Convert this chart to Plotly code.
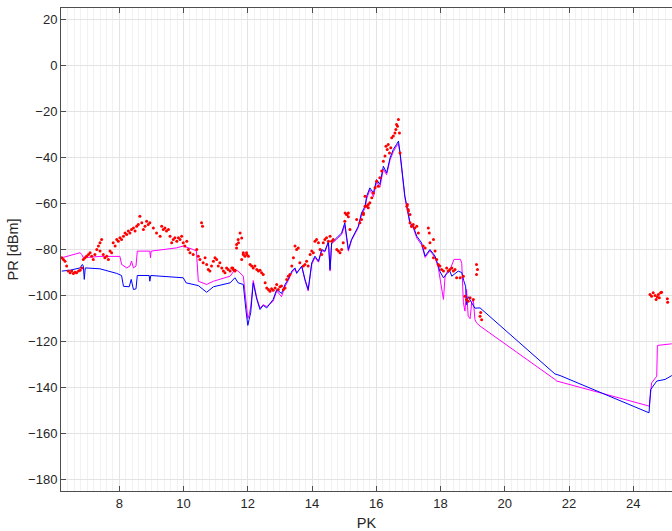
import plotly.graph_objects as go

# Blue trace: PR along PK
blue_pk = [6.21, 6.47, 6.78, 6.85, 6.88, 6.91, 6.94, 7.40, 7.92, 8.07, 8.13, 8.31, 8.37, 8.44, 8.52,
           8.56, 8.93, 8.95, 8.98, 9.99, 10.08, 10.30, 10.46, 10.72, 10.93, 11.45, 11.60, 11.70, 11.86,
           11.94, 12.00, 12.04, 12.09, 12.17, 12.28, 12.38, 12.48, 12.59, 12.79, 12.90, 13.05, 13.16,
           13.26, 13.37, 13.47, 13.52, 13.68, 13.78, 13.88, 13.99, 14.09, 14.20, 14.30, 14.40, 14.51,
           14.56, 14.61, 14.77, 14.92, 15.02, 15.13, 15.23, 15.44, 15.54, 15.65, 15.70, 15.80, 15.91,
           16.01, 16.11, 16.22, 16.32, 16.43, 16.53, 16.58, 16.63, 16.69, 16.74, 16.89, 16.97, 17.05,
           17.15, 17.26, 17.41, 17.52, 17.67, 17.83, 17.93, 17.98, 18.09, 18.19, 18.29, 18.35, 18.55,
           18.66, 18.72, 18.78, 18.81, 18.86, 18.97, 19.07, 19.23, 21.56, 21.72, 24.49, 24.54, 24.73,
           24.99, 25.20]
blue_pr = [-89.4, -89.0, -88.0, -86.5, -87.2, -93.0, -88.0, -88.4, -90.4, -91.3, -96.0, -96.2, -93.0,
           -97.4, -97.1, -91.3, -91.3, -93.8, -91.3, -92.3, -94.5, -95.2, -95.7, -98.6, -96.2, -94.5,
           -92.3, -94.5, -95.2, -106.1, -113.0, -110.5, -107.5, -94.5, -101.7, -106.1, -104.3, -105.4,
           -101.7, -97.4, -99.1, -95.2, -93.0, -89.4, -88.0, -90.4, -87.2, -93.0, -97.4, -85.8, -82.9,
           -85.1, -80.0, -80.7, -76.4, -88.7, -77.1, -74.9, -72.8, -68.4, -80.0, -75.6, -69.9, -64.1,
           -61.2, -56.8, -53.2, -55.4, -49.6, -51.7, -43.8, -46.7, -40.1, -36.5, -35.1, -34.3, -32.9,
           -38.0, -56.8, -62.6, -68.4, -69.9, -74.2, -77.1, -82.9, -80.0, -82.9, -87.2, -89.5, -92.3,
           -90.5, -89.4, -91.6, -89.4, -90.0, -93.5, -96.0, -104.0, -100.5, -103.2, -105.5, -105.4,
           -134.1, -134.8, -151.0, -140.9, -137.2, -136.5, -134.8]

# Magenta trace
mag_pk = [6.21, 6.50, 6.78, 6.83, 6.88, 7.40, 8.02, 8.07, 8.23, 8.33, 8.38, 8.44, 8.52, 8.56, 8.95,
          8.97, 8.99, 9.78, 9.99, 10.30, 10.40, 10.46, 10.72, 10.93, 11.45, 11.60, 11.70, 11.86, 11.96,
          12.00, 12.04, 12.09, 12.17, 12.28, 12.38, 12.48, 12.59, 12.79, 12.90, 13.05, 13.16, 13.26,
          13.37, 13.47, 13.52, 13.68, 13.78, 13.88, 13.99, 14.09, 14.20, 14.30, 14.40, 14.51, 14.56,
          14.61, 14.77, 14.92, 15.02, 15.13, 15.23, 15.44, 15.54, 15.65, 15.70, 15.80, 15.91, 16.01,
          16.11, 16.22, 16.32, 16.43, 16.53, 16.58, 16.63, 16.69, 16.74, 16.89, 16.97, 17.05, 17.15,
          17.26, 17.41, 17.52, 17.67, 17.83, 17.93, 17.98, 18.04, 18.09, 18.14, 18.19, 18.29, 18.38,
          18.42, 18.62, 18.66, 18.71, 18.76, 18.81, 18.86, 18.92, 18.97, 19.02, 19.07, 19.12, 19.23,
          21.56, 21.62, 24.50, 24.57, 24.73, 24.75, 25.20]
mag_pr = [-83.6, -82.5, -81.4, -82.2, -83.6, -83.0, -83.0, -86.5, -88.0, -87.2, -85.0, -88.0, -87.2,
          -80.7, -80.7, -83.6, -80.7, -79.3, -78.5, -80.0, -80.7, -93.8, -95.2, -93.8, -91.6, -88.7,
          -89.4, -91.6, -104.6, -110.0, -108.5, -105.0, -93.5, -101.0, -105.5, -104.0, -104.8, -102.5,
          -98.0, -100.5, -96.0, -93.5, -90.0, -88.5, -90.0, -87.5, -93.5, -98.0, -86.5, -83.5, -85.5,
          -80.5, -81.0, -77.0, -89.4, -77.5, -75.5, -73.5, -69.5, -80.7, -76.0, -70.5, -65.0, -62.0,
          -58.0, -54.0, -57.0, -50.5, -53.0, -45.0, -47.5, -41.0, -37.5, -36.0, -35.0, -34.0, -38.5,
          -57.5, -63.0, -69.0, -70.5, -75.0, -78.0, -83.5, -80.5, -83.5, -88.0, -92.0, -98.0, -101.7,
          -92.0, -90.0, -89.0, -86.0, -84.3, -84.3, -86.0, -103.0, -106.8, -97.4, -109.0, -110.1,
          -103.0, -101.7, -110.4, -111.9, -113.3, -136.5, -137.2, -148.1, -138.0, -135.1, -121.7,
          -121.0]

# Red measured points
meas_pk = [6.21, 6.26, 6.31, 6.36, 6.41, 6.47, 6.52, 6.57, 6.62, 6.67, 6.73, 6.78, 6.83, 6.88, 6.93,
           6.98, 7.04, 7.09, 7.14, 7.19, 7.24, 7.30, 7.35, 7.40, 7.45, 7.40, 7.50, 7.55, 7.61, 7.66,
           7.71, 7.76, 7.81, 7.87, 7.92, 7.97, 8.02, 8.07, 8.13, 8.18, 8.23, 8.28, 8.33, 8.38, 8.44,
           8.49, 8.54, 8.59, 8.64, 8.70, 8.75, 8.80, 8.85, 8.90, 8.95, 9.06, 9.16, 9.27, 9.32, 9.37,
           9.42, 9.47, 9.53, 9.58, 9.63, 9.68, 9.73, 9.79, 9.84, 9.89, 9.94, 9.99, 10.04, 10.10, 10.15,
           10.20, 10.30, 10.41, 10.46, 10.51, 10.56, 10.59, 10.61, 10.67, 10.72, 10.77, 10.82, 10.87,
           10.93, 10.98, 11.03, 11.08, 11.13, 11.19, 11.24, 11.29, 11.34, 11.39, 11.45, 11.50, 11.55,
           11.60, 11.65, 11.70, 11.76, 11.81, 11.86, 11.96, 12.02,
           11.53, 11.60, 11.65, 11.71, 11.81, 11.86, 11.91, 11.97, 12.07, 12.12, 12.17, 12.22, 12.28,
           12.33, 12.38, 12.43, 12.48, 12.54, 12.59, 12.64, 12.69, 12.74, 12.79, 12.85, 12.90, 12.95,
           13.00, 13.05, 13.11, 13.16, 13.21, 13.26, 13.31, 13.37, 13.42, 13.47, 13.52, 13.57, 13.62,
           13.73, 13.78, 13.83, 13.88, 13.94, 13.99, 14.04, 14.09, 14.14, 14.20, 14.25, 14.30, 14.35,
           14.40, 14.45, 14.51, 14.56, 14.61, 14.66, 14.77, 14.82, 14.87, 14.92, 14.97, 15.02, 15.08,
           15.13, 15.18, 15.39, 15.49, 15.60, 15.65, 15.75,
           15.03, 15.08, 15.13, 15.54, 15.60, 15.65, 15.70, 15.75, 15.80, 15.86, 15.91, 15.96, 16.01,
           16.06, 16.11, 16.17, 16.22, 16.27, 16.30, 16.34, 16.37, 16.41, 16.45, 16.48, 16.53, 16.58,
           16.61, 16.63, 16.66, 16.69, 16.72, 16.74, 16.97, 16.99, 17.05, 17.10,
           16.95, 17.00, 17.05, 17.10, 17.15, 17.20, 17.26, 17.31, 17.62, 17.65, 17.67, 17.78, 17.46,
           17.52, 17.83, 17.88, 17.78, 17.93, 17.98, 18.03, 18.09, 18.19, 18.24, 18.29, 18.35, 18.40,
           18.45, 18.50, 18.61, 18.71, 18.76, 18.81, 18.86, 18.92, 19.02, 19.12, 19.15, 19.12, 19.23,
           19.25, 19.28,
           24.52, 24.57, 24.62, 24.68, 24.71, 24.75, 24.78, 24.81, 24.85, 24.88, 25.06, 25.07]
meas_pr = [-83.6, -84.3, -85.1, -87.2, -89.4, -90.1, -89.4, -90.4, -89.9, -90.1, -89.4, -89.0, -88.0,
           -84.3, -83.6, -82.9, -82.2, -81.4, -82.9, -84.3, -82.2, -80.0, -78.5, -77.1, -75.6, -80.7,
           -82.2, -83.6, -82.9, -84.3, -80.7, -81.4, -77.1, -78.5, -75.6, -76.4, -74.9, -75.6, -74.2,
           -72.8, -73.5, -72.0, -72.8, -71.3, -70.6, -72.0, -69.9, -69.1, -65.5, -68.4, -71.3, -69.9,
           -67.7, -69.1, -68.4, -70.6, -72.8, -74.2, -69.9, -71.3, -70.6, -72.0, -71.3, -74.2, -77.1,
           -75.6, -74.9, -76.4, -74.9, -75.6, -74.2, -77.1, -78.5, -76.4, -80.0, -81.4, -82.2, -80.0,
           -82.9, -84.3, -68.4, -69.9, -85.8, -83.6, -86.5, -88.7, -89.4, -87.2, -85.1, -83.6, -84.3,
           -87.2, -85.8, -88.0, -89.4, -90.1, -88.0, -88.7, -89.4, -88.0, -88.7, -89.4, -77.8, -75.6,
           -72.8, -84.3, -82.2, -81.4, -82.9,
           -88.0, -89.0, -79.3, -77.1, -75.0, -81.4, -82.9, -82.2, -86.5, -87.2, -88.0, -87.2, -88.7,
           -89.4, -89.0, -90.1, -90.9, -94.5, -96.7, -97.4, -98.1, -97.1, -97.7, -96.7, -95.2, -97.4,
           -96.2, -95.9, -97.4, -96.7, -93.0, -91.6, -90.9, -87.2, -83.6, -78.5, -80.0, -79.3, -85.8,
           -87.2, -86.5, -85.1, -87.2, -82.2, -80.7, -81.4, -76.4, -75.6, -77.1, -80.0, -82.2, -77.1,
           -75.6, -74.9, -76.4, -74.2, -76.4, -75.6, -80.0, -80.7, -81.4, -80.0, -77.1, -67.7, -64.8,
           -64.1, -71.3, -67.0, -68.4, -64.1, -61.2, -60.4,
           -64.1, -64.8, -65.8, -67.0, -64.8, -56.8, -61.2, -61.9, -59.7, -57.5, -55.4, -53.2, -50.3,
           -52.5, -48.8, -45.9, -41.6, -39.4, -35.1, -36.5, -34.3, -38.0, -35.8, -31.4, -30.7, -29.3,
           -27.8, -25.6, -26.4, -23.5, -29.3, -38.0, -60.4, -62.6, -64.8, -69.9,
           -61.2, -63.3, -68.4, -69.9, -69.1, -70.6, -69.9, -72.8, -70.6, -72.8, -77.1, -75.6, -78.5,
           -79.3, -80.7, -84.3, -83.6, -86.5, -87.2, -88.7, -89.4, -88.0, -89.4, -88.7, -88.0, -89.4,
           -88.7, -92.3, -92.3, -91.6, -100.3, -101.7, -102.5, -101.0, -101.7, -86.5, -88.7, -90.9,
           -109.0, -107.4, -110.5,
           -99.6, -100.3, -98.8, -100.0, -101.7, -100.6, -99.6, -101.0, -98.8, -98.6, -101.4, -102.9]

x_ticks = [8, 10, 12, 14, 16, 18, 20, 22, 24]
y_ticks = [-180, -160, -140, -120, -100, -80, -60, -40, -20, 0, 20]

fig = go.Figure()
fig.add_trace(go.Scatter(x=mag_pk, y=mag_pr, mode="lines",
                         line=dict(color="#ff00ff", width=1), showlegend=False))
fig.add_trace(go.Scatter(x=blue_pk, y=blue_pr, mode="lines",
                         line=dict(color="#0000ff", width=1), showlegend=False))
fig.add_trace(go.Scatter(x=meas_pk, y=meas_pr, mode="markers",
                         marker=dict(color="#ff0000", size=3, line=dict(width=0)),
                         showlegend=False))

axis_color = "#4d4d4d"
font_color = "#262626"
fig.update_layout(
    width=672, height=531,
    margin=dict(l=61, r=0, t=8, b=40),
    paper_bgcolor="white", plot_bgcolor="white",
    font=dict(family="Liberation Sans, Arial, sans-serif", size=13, color=font_color),
    xaxis=dict(
        range=[6.185, 25.205], tickvals=x_ticks, ticks="inside", ticklen=5,
        tickcolor=axis_color, showline=True, linecolor=axis_color, linewidth=1,
        mirror="ticks", showgrid=True, gridcolor="#e3e3e3", gridwidth=1, zeroline=False,
        minor=dict(dtick=0.2, showgrid=True, gridcolor="#f2f2f2", gridwidth=1),
        title=dict(text="PK", font=dict(size=14.5, color=font_color), standoff=8),
    ),
    yaxis=dict(
        range=[-185, 25], tickvals=y_ticks, ticks="inside", ticklen=5,
        tickcolor=axis_color, showline=True, linecolor=axis_color, linewidth=1,
        showgrid=True, gridcolor="#e3e3e3", gridwidth=1, zeroline=False,
        title=dict(text="PR [dBm]", font=dict(size=14.5, color=font_color), standoff=6),
    ),
)

fig.write_html("out.html")
